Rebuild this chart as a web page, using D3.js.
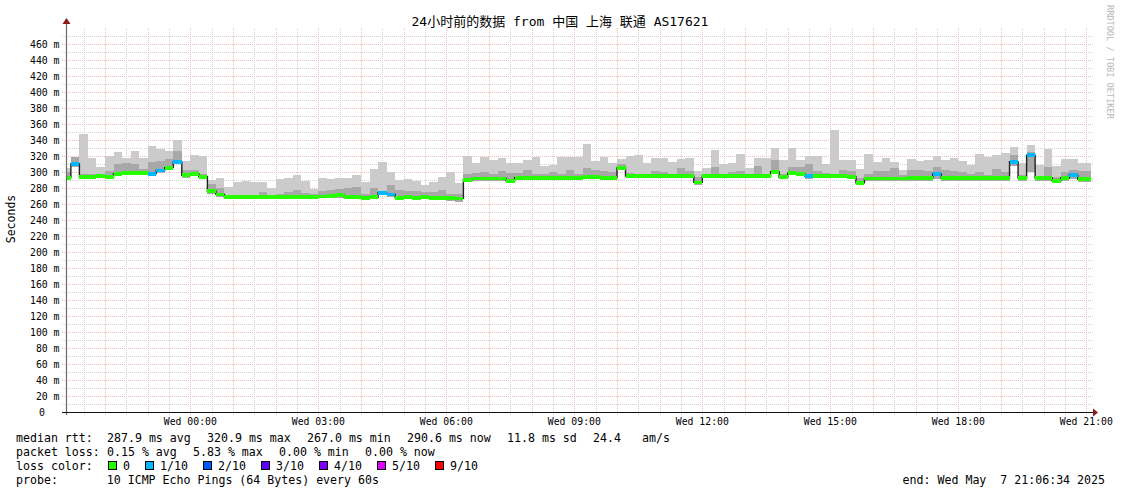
<!DOCTYPE html>
<html><head><meta charset="utf-8">
<script src="https://cdn.jsdelivr.net/npm/d3@7"></script>
<style>
body{margin:0;background:#fff}
svg{display:block}
text{font-family:"DejaVu Sans Mono","Noto Sans CJK SC",monospace;fill:#000;white-space:pre}
</style>
</head><body><svg id="c" width="1121" height="494"></svg>
<script>
// ---------- data (12-minute steps, starting Tue 21:00) ----------
const median = [293,310,294,294,295,294,297.5,298.5,298.5,298.5,298,302,305.5,312.5,296,298,294,276,272,268.5,
268.5,268.5,268.5,268.5,268.5,268.5,268.5,268.5,268.5,268.5,269.5,270,271,269,268.5,268,268.5,274,272,268,
269,268,268.5,268,268,267.2,267,290,292,292,292,292,289,293,293,293,293,293,293,293,
293,293.5,293.5,293,293,305,295,295,295,295,295,295,295,295,287,295,295,295,295,295,
295,295,295,300.5,293.5,298.5,298,295,295,295,295,295,294,286.5,292,292,292,292,292,292.5,
292.5,292.5,297.5,292.5,292.5,292.5,292.5,292.5,292.5,292.5,292.5,313,292.5,321,292.5,292.5,289,292.5,296,291,291];
const lossTenths = [0,1,0,0,0,0,0,0,0,0,1,1,0,1,0,0,0,0,0,0,
0,0,0,0,0,0,0,0,0,0,0,0,0,0,0,0,0,1,1,0,
0,0,0,0,0,0,0,0,0,0,0,0,0,0,0,0,0,0,0,0,
0,0,0,0,0,0,0,0,0,0,0,0,0,0,0,0,0,0,0,0,
0,0,0,0,0,0,0,1,0,0,0,0,0,0,0,0,0,0,0,0,
0,0,1,0,0,0,0,0,0,0,0,1,0,1,0,0,0,0,1,0,0];
const smokeHi = [305,319,347.5,318,306.7,320,325,318,326,318,332.5,329,326.7,340,314,321,320,290,293,281.7,
288,289,288,288,280,291,292.5,296.7,289,279,292.5,291,292.5,292.5,296,288,303.75,312.5,300,290,
291,289,284,287.5,294,300,286,320,311.7,319,315,318,311.7,311,315,319,308,309,319,319,
319,335,314,319,311,316,320,321,311.7,318,318,312.5,316.7,317.5,301,305.4,327.5,309.6,311,322.5,
304.6,318,318,330,315,330,315,320,320,309.6,352.5,315,315,303.75,322.5,312,317.5,312,302.5,316,
314,315,320,315,318,313.75,308.75,323,319,321.7,324,331.7,311,333.75,308.75,328.75,308,316,316,311.7,311.7];
const smokeMid = [300,319,298,298,296,301,309.6,311,309.6,303.7,312,313.7,316,326,302.5,302,297,285,279.6,271,
271,271,271,275,271,273,275,277.5,274,273,276.7,277.5,278.7,279.6,281.7,272.5,279.6,276.7,284,277.5,
276,276,275,275,278,272.5,272.5,298,299,300,298,301,299,299,302,297.5,298,300,297,302.5,
298,304.6,303,301,300.5,309.6,299,298,298,301,300,298,305,301.7,294,296,306.7,298,300,301,
296,307.5,296,315,298,306.7,306.7,309.6,301,299,296,302.5,301,293,298,301,301,304.6,296,302.5,
302.5,301,306.7,302.5,301,300,298,300,296,303.75,300,321,296,324.6,294,306.7,294,299.6,302.5,301.7,301.7];
const smokeLo = [290,306,291,291,292,291,295,296,296,296,295,299,303,310,293,295,291,273,269,266,
266,266,266,266,266,266,266,266,266,266,267,267,268,266,266,265,266,271,269,265,
266,265,266,265,265,264,263,287,289,289,289,289,286,290,290,290,290,290,290,290,
290,291,291,290,290,302,292,292,292,292,292,292,292,292,284,292,292,292,292,292,
292,292,292,297,291,296,295,291,292,292,292,292,291,284,289,289,289,289,289,289,
289,289,291,289,289,289,289,289,289,289,289,307,289,300,289,289,286,289,291,288,288];
const lossLabels = ["0","1/10","2/10","3/10","4/10","5/10","9/10"];
const lossColors = ["#26ff00","#00b8ff","#0059ff","#5e00ff","#7e00ff","#dd00ff","#ff0000"];
const rttItems = ["median rtt:","287.9 ms avg","320.9 ms max","267.0 ms min","290.6 ms now","11.8 ms sd","24.4","am/s"];
const lossItems = ["packet loss:","0.15 % avg","5.83 % max","0.00 % min","0.00 % now"];
const probeLine = "probe:       10 ICMP Echo Pings (64 Bytes) every 60s";
const endLine = "end: Wed May  7 21:06:34 2025";
const titleText = "24小时前的数据 from 中国 上海 联通 AS17621";
const yTickValues = d3.range(0, 461, 20);

// ---------- layout ----------
const svg = d3.select("#c");
const X0 = 67, X1 = 1091, YB = 412, YT = 28;
const tStart = new Date(Date.UTC(2025,4,6,21,6,34));
const tEnd = new Date(Date.UTC(2025,4,7,21,6,34));
const x = d3.scaleUtc().domain([tStart, tEnd]).range([X0, X1]);
const y = d3.scaleLinear().domain([0, 480]).range([YB, YT]);
const stepMs = 12*60000;
const base = Date.UTC(2025,4,6,21,0,0);
const steps = median.map((m,i)=>({
  t0:new Date(base+i*stepMs), t1:new Date(base+(i+1)*stepMs),
  med:m, loss:lossTenths[i], hi:smokeHi[i], mid:smokeMid[i], lo:smokeLo[i]}));

svg.append("rect").attr("width",1121).attr("height",494).attr("fill","#fff");

// grid (under data)
const gridMinor = "#d4d4d4", gridMajor = "#f4bcbc";
const gg = svg.append("g").attr("shape-rendering","crispEdges");
d3.range(10, 471, 10).forEach(v=>{
  const yy = Math.round(y(v))+0.5;
  gg.append("line").attr("x1",62).attr("x2",X1+2).attr("y1",yy).attr("y2",yy)
    .attr("stroke", v%20===0 ? gridMajor : gridMinor).attr("stroke-dasharray","1,1");
});
const minorT = d3.utcMinute.every(30).range(tStart, tEnd);
minorT.forEach(t=>{
  const xx = Math.round(x(t))+0.5;
  const major = t.getUTCMinutes()===0;
  gg.append("line").attr("x1",xx).attr("x2",xx).attr("y1",YT).attr("y2",YB+3)
    .attr("stroke", major ? gridMajor : gridMinor).attr("stroke-dasharray","1,1");
});

svg.append("clipPath").attr("id","clip").append("rect")
  .attr("x",X0).attr("y",YT).attr("width",X1-X0).attr("height",YB-YT);
const g = svg.append("g").attr("clip-path","url(#clip)");

// smoke
g.selectAll("rect.sl").data(steps).join("rect").attr("class","sl")
  .attr("x",d=>x(d.t0)).attr("width",d=>x(d.t1)-x(d.t0))
  .attr("y",d=>y(d.hi)).attr("height",d=>y(d.lo)-y(d.hi))
  .attr("fill","#cbcbcb").attr("shape-rendering","crispEdges");
g.selectAll("rect.sd").data(steps).join("rect").attr("class","sd")
  .attr("x",d=>x(d.t0)).attr("width",d=>x(d.t1)-x(d.t0))
  .attr("y",d=>y(d.mid)).attr("height",d=>Math.max(0,y(d.lo)-y(d.mid)))
  .attr("fill","#a8a8a8").attr("shape-rendering","crispEdges");

// median black step line
const pts = steps.map(d=>[x(d.t0), y(d.med)]);
pts.push([x(steps[steps.length-1].t1), y(median[median.length-1])]);
g.append("path").attr("d", d3.line().curve(d3.curveStepAfter)(pts))
  .attr("fill","none").attr("stroke","#202020").attr("stroke-width",1.4);
// median colored bands
g.selectAll("rect.md").data(steps).join("rect").attr("class","md")
  .attr("x",d=>x(d.t0)).attr("width",d=>x(d.t1)-x(d.t0))
  .attr("y",d=>y(d.med)-1.8).attr("height",3.8)
  .attr("fill",d=>lossColors[d.loss]).attr("shape-rendering","crispEdges");

// axes
svg.append("line").attr("x1",66.5).attr("x2",66.5).attr("y1",YB+3).attr("y2",YT-6)
  .attr("stroke","#6a6a6a").attr("stroke-width",1.2);
svg.append("line").attr("x1",62).attr("x2",X1+3).attr("y1",YB+0.5).attr("y2",YB+0.5)
  .attr("stroke","#111").attr("stroke-width",1.2);
svg.append("path").attr("d",`M62.5,${YT-4} L66.5,${YT-10} L70.5,${YT-4} Z`).attr("fill","#8b1a1a");
svg.append("path").attr("d",`M${X1+2},${YB-3.5} L${X1+7},${YB+0.5} L${X1+2},${YB+4.5} Z`).attr("fill","#8b1a1a");

// y labels
svg.append("g").selectAll("text").data(yTickValues).join("text")
  .attr("x",d=>d===0?45:59.5).attr("y",d=>y(d)+3.5).attr("text-anchor","end")
  .attr("font-size","9.8px").text(d=>d===0?"0":d+" m");

// x labels
const labelT = d3.utcHour.every(3).range(tStart, tEnd);
svg.append("g").selectAll("text").data(labelT).join("text")
  .attr("x",d=>x(d)).attr("y",425).attr("text-anchor","middle")
  .attr("font-size","9.8px").text(d=>d3.utcFormat("%a %H:%M")(d));

// title
svg.append("text").attr("x",560).attr("y",26).attr("text-anchor","middle")
  .attr("font-size","13px").text(titleText);
// y title
svg.append("text").attr("transform","translate(15,219) rotate(-90)").attr("text-anchor","middle")
  .attr("font-size","11.5px").text("Seconds");
// watermark
svg.append("text").attr("transform","translate(1107,5) rotate(90)").attr("text-anchor","start")
  .attr("font-size","8.6px").style("fill","#b8b8b8").text("RRDTOOL / TOBI OETIKER");

// legend
const fs = "11.6px", cw = 7.0;
function itemRow(items, yy, firstX, extraPos){
  let xx = firstX;
  items.forEach((s,i)=>{
    if (i===0){ svg.append("text").attr("x",16).attr("y",yy).attr("font-size",fs).text(s); return; }
    if (extraPos && extraPos[i]!==undefined) xx = extraPos[i];
    svg.append("text").attr("x",xx).attr("y",yy).attr("font-size",fs).text(s);
    xx += s.length*cw + 2*cw + 2;
  });
}
itemRow(rttItems, 442, 107, {7:642});
itemRow(lossItems, 456, 107);
svg.append("text").attr("x",16).attr("y",470).attr("font-size",fs).text("loss color:");
const boxX = [108,145,203,261,319,377,435];
lossLabels.forEach((l,i)=>{
  svg.append("rect").attr("x",boxX[i]+0.5).attr("y",461.5).attr("width",8).attr("height",8)
    .attr("fill",lossColors[i]).attr("stroke","#000").attr("stroke-width",1).attr("shape-rendering","crispEdges");
  svg.append("text").attr("x",boxX[i]+15).attr("y",470).attr("font-size",fs).text(l);
});
svg.append("text").attr("x",16).attr("y",484).attr("font-size",fs).text(probeLine);
svg.append("text").attr("x",1105).attr("y",484).attr("text-anchor","end").attr("font-size",fs).text(endLine);
</script></body></html>
